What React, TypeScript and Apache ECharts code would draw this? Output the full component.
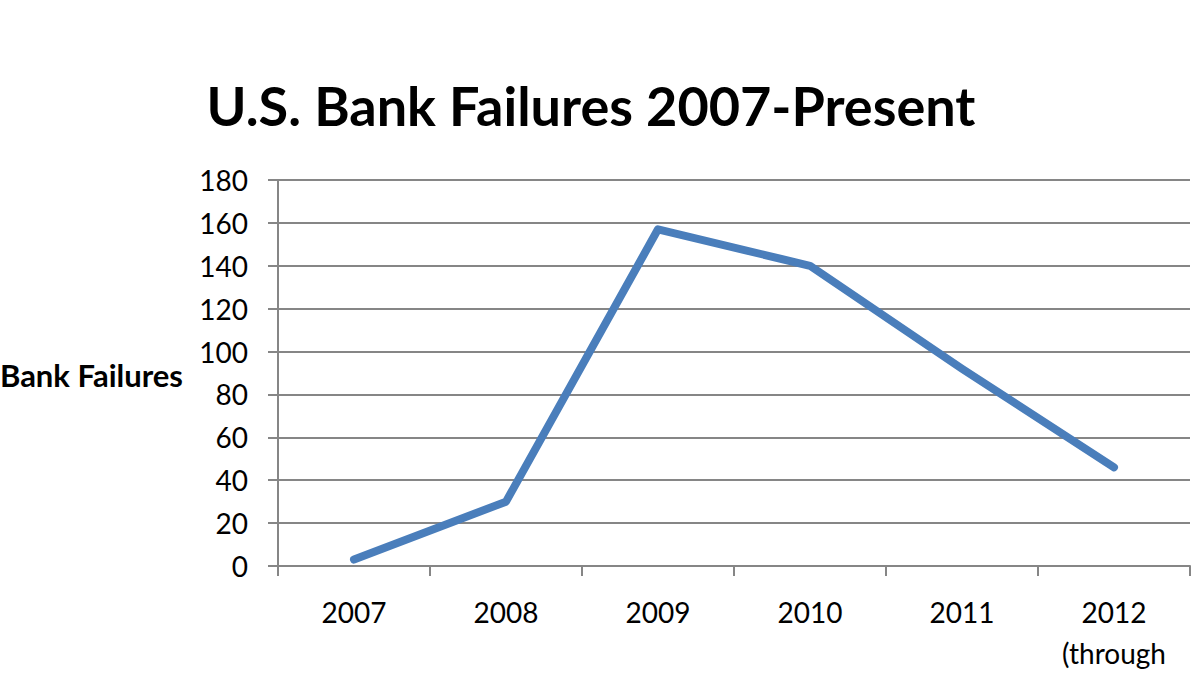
import React, { useEffect, useRef } from 'react';
import * as echarts from 'echarts';

// 数据
const years = ['2007', '2008', '2009', '2010', '2011', '2012\n(through'];
const failures = [3, 30, 157, 140, 92, 46];
const yTicks = { min: 0, max: 180, interval: 20 };

const chartTitle = 'U.S. Bank Failures 2007-Present';
const yAxisTitle = 'Bank Failures';

const FONT = 'Lato, "Open Sans", sans-serif';
const GRAY = '#868686';
const BLUE = '#4a7ebb';

const App: React.FC = () => {
  const chartRef = useRef<HTMLDivElement>(null);

  useEffect(() => {
    if (!chartRef.current) return;
    const chart = echarts.init(chartRef.current, undefined, { renderer: 'svg' });

    const option: echarts.EChartsOption = {
      animation: false,
      backgroundColor: '#ffffff',
      textStyle: { fontFamily: FONT },
      grid: {
        left: 278,
        right: 10,
        top: 180,
        bottom: 109,
        containLabel: false
      },
      graphic: [
        {
          type: 'text',
          x: 591,
          y: 105,
          style: {
            text: chartTitle,
            fontFamily: FONT,
            fontSize: 54,
            fontWeight: 'bold',
            fill: '#000',
            align: 'center',
            verticalAlign: 'middle'
          }
        },
        {
          type: 'text',
          x: 183,
          y: 375,
          style: {
            text: yAxisTitle,
            fontFamily: FONT,
            fontSize: 31,
            fontWeight: 'bold',
            fill: '#000',
            align: 'right',
            verticalAlign: 'middle'
          }
        }
      ],
      xAxis: {
        type: 'category',
        data: years,
        boundaryGap: true,
        axisLine: { show: true, lineStyle: { color: GRAY, width: 2 } },
        axisTick: {
          show: true,
          length: 10,
          alignWithLabel: false,
          lineStyle: { color: GRAY, width: 2 }
        },
        axisLabel: {
          color: '#000',
          fontFamily: FONT,
          fontSize: 28,
          margin: 25,
          lineHeight: 41,
          interval: 0
        },
        splitLine: { show: false }
      },
      yAxis: {
        type: 'value',
        min: yTicks.min,
        max: yTicks.max,
        interval: yTicks.interval,
        axisLine: { show: true, lineStyle: { color: GRAY, width: 2 } },
        axisTick: { show: true, length: 10, lineStyle: { color: GRAY, width: 2 } },
        axisLabel: {
          color: '#000',
          fontFamily: FONT,
          fontSize: 28,
          margin: 30
        },
        splitLine: { show: true, lineStyle: { color: GRAY, width: 2 } }
      },
      series: [
        {
          type: 'line',
          data: failures,
          symbol: 'none',
          lineStyle: { color: BLUE, width: 8, cap: 'round', join: 'round' }
        }
      ]
    };

    chart.setOption(option);
    return () => {
      chart.dispose();
    };
  }, []);

  return (
    <div
      ref={chartRef}
      style={{ position: 'fixed', left: 0, top: 0, width: '1200px', height: '675px' }}
    />
  );
};

export default App;
